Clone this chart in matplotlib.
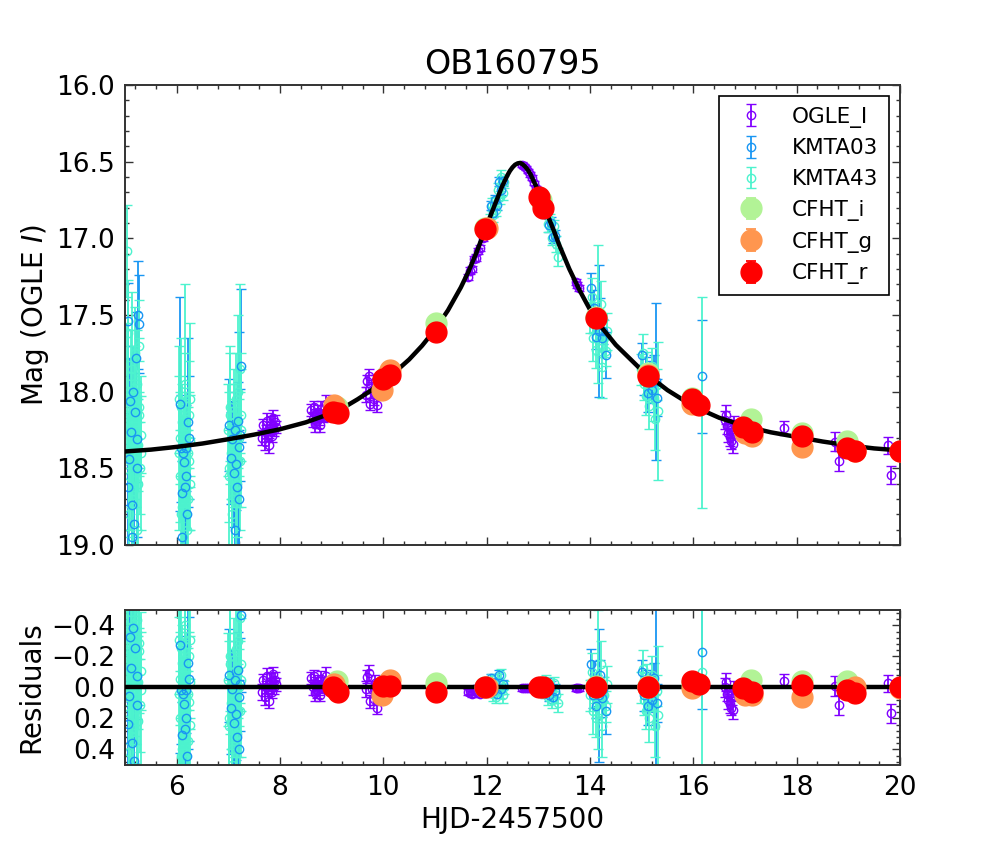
import numpy as np
import matplotlib
matplotlib.use('Agg')
import matplotlib.pyplot as plt
from matplotlib.ticker import AutoMinorLocator, MultipleLocator

# ---------------- model curve ----------------
model_t = [5.0, 5.5, 6.0, 6.5, 7.0, 7.5, 8.0, 8.5, 9.0, 9.25, 9.5, 9.75, 10.0, 10.25,
           10.5, 10.75, 11.0, 11.25, 11.5, 11.65, 11.8, 11.9, 12.0, 12.1, 12.2, 12.3,
           12.4, 12.45, 12.5, 12.55, 12.6, 12.65, 12.7, 12.75, 12.8, 12.85, 12.9, 12.95,
           13.0, 13.1, 13.2, 13.3, 13.4, 13.5, 13.6, 13.8, 14.0, 14.2, 14.5, 15.0, 15.5,
           16.0, 16.5, 17.0, 17.5, 18.0, 18.5, 19.0, 19.5, 20.0]
model_mag = [18.39, 18.378, 18.36, 18.338, 18.31, 18.28, 18.245, 18.20, 18.14, 18.10,
             18.05, 17.995, 17.93, 17.865, 17.79, 17.70, 17.595, 17.47, 17.32, 17.215,
             17.095, 17.005, 16.915, 16.83, 16.745, 16.66, 16.59, 16.56, 16.537, 16.52,
             16.511, 16.508, 16.518, 16.534, 16.555, 16.583, 16.62, 16.655, 16.694,
             16.78, 16.866, 16.95, 17.04, 17.12, 17.20, 17.34, 17.465, 17.57, 17.695,
             17.86, 17.99, 18.095, 18.17, 18.225, 18.265, 18.295, 18.325, 18.35, 18.37,
             18.383]
res_line_t = [5.0, 20.0]
res_line_v = [0.0, 0.0]

# ---------------- OGLE_I ----------------
ogle_t = [7.66, 7.68, 7.70, 7.72, 7.74, 7.76, 7.78, 7.80, 7.82, 7.84, 7.86, 7.88, 7.90, 7.92,
          8.60, 8.63, 8.66, 8.68, 8.70, 8.72, 8.74, 8.76, 8.78, 8.80, 8.83, 8.86, 8.89, 8.92,
          9.66, 9.69, 9.72, 9.75, 9.78, 9.81, 9.84, 9.87, 9.90, 9.93,
          11.64, 11.68, 11.72, 11.76, 11.80, 11.84, 11.88, 11.92,
          12.68, 12.72, 12.76, 12.80, 12.84, 12.88, 12.92, 12.96,
          13.72, 13.75, 13.78,
          16.62, 16.64, 16.66, 16.68, 16.70, 16.72, 16.74, 16.76, 16.78,
          17.75, 18.74, 18.82, 19.77, 19.82]
ogle_mag = [18.30, 18.22, 18.33, 18.26, 18.19, 18.28, 18.35, 18.24, 18.21, 18.29, 18.17, 18.25, 18.20, 18.23,
            18.12, 18.18, 18.10, 18.21, 18.15, 18.19, 18.13, 18.17, 18.22, 18.11, 18.16, 18.14, 18.08, 18.12,
            18.02, 17.93, 17.90, 18.08, 17.99, 18.05, 17.94, 18.09, 18.00, 17.97,
            17.253, 17.21, 17.20, 17.137, 17.125, 17.08, 17.063, 16.997,
            16.52, 16.528, 16.542, 16.56, 16.582, 16.605, 16.64, 16.672,
            17.285, 17.305, 17.325,
            18.183, 18.15, 18.227, 18.27, 18.295, 18.322, 18.244, 18.341, 18.208,
            18.235, 18.325, 18.45, 18.35, 18.545]
ogle_err = [0.05, 0.04, 0.05, 0.04, 0.05, 0.04, 0.05, 0.04, 0.05, 0.04, 0.05, 0.04, 0.05, 0.04,
            0.04, 0.05, 0.04, 0.05, 0.04, 0.05, 0.04, 0.05, 0.04, 0.05, 0.04, 0.05, 0.06, 0.04,
            0.05, 0.04, 0.05, 0.04, 0.05, 0.04, 0.05, 0.04, 0.05, 0.04,
            0.02, 0.02, 0.02, 0.02, 0.02, 0.02, 0.02, 0.02,
            0.015, 0.015, 0.015, 0.015, 0.015, 0.015, 0.015, 0.015,
            0.02, 0.02, 0.02,
            0.06, 0.06, 0.05, 0.06, 0.06, 0.05, 0.06, 0.06, 0.05,
            0.045, 0.065, 0.065, 0.055, 0.06]
ogle_res = [0.03, -0.05, 0.06, -0.005, -0.075, 0.015, 0.085, -0.02, -0.045, 0.03, -0.085, 0.0, -0.05, -0.02,
            -0.06, 0.0, -0.075, 0.035, -0.025, 0.015, -0.04, 0.0, 0.05, -0.055, -0.005, -0.02, -0.075, -0.03,
            0.01, -0.07, -0.095, 0.09, 0.01, 0.075, -0.03, 0.13, 0.045, 0.02,
            0.03, 0.02, 0.04, 0.01, 0.03, 0.02, 0.04, 0.01,
            0.005, 0.005, 0.005, 0.005, 0.005, 0.0, 0.005, 0.01,
            0.005, 0.005, 0.005,
            0.0, -0.035, 0.04, 0.08, 0.105, 0.13, 0.05, 0.145, 0.01,
            -0.045, -0.012, 0.113, -0.028, 0.167]

# ---------------- KMTA03 ----------------
k03_t = [5.06, 5.08, 5.10, 5.12, 5.14, 5.16, 5.18, 5.20, 5.22, 5.24, 5.26, 5.28, 5.05, 5.13, 5.23,
         6.06, 6.08, 6.10, 6.12, 6.14, 6.16, 6.18, 6.20, 6.22, 6.24, 6.11, 6.19,
         7.02, 7.05, 7.08, 7.10, 7.12, 7.14, 7.16, 7.18, 7.20, 7.22, 7.24, 7.13, 7.21,
         12.08, 12.12, 12.16, 12.20, 12.24, 12.28, 12.32,
         13.12, 13.16, 13.20, 13.24, 13.28, 13.32,
         14.02, 14.05, 14.08, 14.11, 14.14, 14.17, 14.20, 14.23, 14.26, 14.30,
         15.00, 15.04, 15.08, 15.12, 15.16, 15.20, 15.24, 15.28, 15.30,
         16.17]
k03_mag = [17.54, 18.44, 18.06, 18.26, 18.74, 18.00, 18.86, 18.13, 17.78, 18.31, 17.50, 17.56, 18.62, 18.95, 18.50,
           18.08, 18.37, 18.66, 18.40, 18.46, 18.62, 18.37, 18.80, 18.20, 18.30, 18.95, 18.55,
           18.22, 18.43, 18.31, 18.53, 18.25, 18.47, 18.62, 18.19, 18.36, 18.28, 17.83, 18.90, 18.70,
           16.787, 16.833, 16.749, 16.785, 16.631, 16.687, 16.626,
           16.827, 16.812, 16.916, 16.90, 16.993, 16.988,
           17.326, 17.54, 17.457, 17.643, 17.56, 17.605, 17.49, 17.653, 17.606, 17.763,
           17.76, 17.92, 17.851, 18.011, 17.902, 17.992, 17.862, 17.933, 18.038,
           17.90]
k03_err = [0.25, 0.30, 0.28, 0.22, 0.35, 0.30, 0.40, 0.25, 0.30, 0.28, 0.35, 0.32, 0.45, 0.50, 0.45,
           0.70, 0.35, 0.30, 0.25, 0.30, 0.40, 0.28, 0.45, 0.55, 0.40, 0.50, 0.45,
           0.30, 0.30, 0.25, 0.35, 0.25, 0.30, 0.40, 0.25, 0.75, 0.30, 0.50, 0.50, 0.45,
           0.03, 0.03, 0.03, 0.03, 0.03, 0.03, 0.03,
           0.04, 0.04, 0.04, 0.04, 0.04, 0.04,
           0.10, 0.08, 0.12, 0.08, 0.10, 0.43, 0.10, 0.12, 0.08, 0.15,
           0.08, 0.10, 0.08, 0.12, 0.10, 0.08, 0.10, 0.51, 0.12,
           0.37]
k03_res = [-0.845, 0.055, -0.325, -0.125, 0.355, -0.385, 0.475, -0.255, -0.605, -0.075, -0.885, -0.825, 0.235, 0.565, 0.115,
           -0.275, 0.015, 0.305, 0.045, 0.105, 0.265, 0.015, 0.445, -0.155, -0.055, 0.595, 0.195,
           -0.08, 0.13, 0.01, 0.23, -0.05, 0.17, 0.32, -0.11, 0.06, -0.02, -0.47, 0.60, 0.40,
           -0.06, 0.02, -0.03, 0.04, -0.08, 0.01, -0.02,
           0.03, -0.02, 0.05, 0.0, 0.06, 0.02,
           -0.15, 0.05, -0.05, 0.12, 0.02, 0.05, -0.08, 0.07, 0.01, 0.15,
           -0.10, 0.05, -0.03, 0.12, 0.00, 0.08, -0.06, 0.0, 0.10,
           -0.23]

# ---------------- KMTA43 ----------------
k43_t = [5.03, 5.05, 5.06, 5.08, 5.09, 5.11, 5.12, 5.14, 5.15, 5.17, 5.20, 5.21, 5.22, 5.24, 5.25, 5.26, 5.27, 5.28, 5.29, 5.30,
         5.04, 5.07, 5.10, 5.13, 5.16, 5.19, 5.23, 5.27, 5.31,
         6.04, 6.06, 6.07, 6.09, 6.10, 6.12, 6.13, 6.15, 6.16, 6.18, 6.19, 6.21, 6.22, 6.24, 6.25, 6.26,
         6.05, 6.08, 6.11, 6.14, 6.17, 6.20, 6.23, 6.26,
         7.00, 7.02, 7.04, 7.06, 7.08, 7.10, 7.12, 7.14, 7.16, 7.18, 7.20, 7.22, 7.24,
         7.01, 7.03, 7.07, 7.11, 7.15, 7.19, 7.23, 7.25,
         12.06, 12.10, 12.13, 12.16, 12.19, 12.22, 12.25, 12.28, 12.31, 12.34,
         13.10, 13.14, 13.18, 13.22, 13.26, 13.30, 13.34, 13.38,
         14.00, 14.03, 14.06, 14.09, 14.12, 14.15, 14.18, 14.21, 14.24, 14.27, 14.30, 14.33,
         14.98, 15.02, 15.05, 15.08, 15.11, 15.14, 15.17, 15.20, 15.23, 15.26, 15.29, 15.32,
         16.17]
k43_mag = [17.08, 17.62, 18.10, 18.55, 18.25, 17.90, 18.40, 18.70, 18.30, 18.05, 17.75, 18.45, 18.20, 17.95, 18.60, 18.35, 17.70, 18.15, 18.50, 18.28,
           18.00, 18.80, 18.45, 17.85, 18.65, 18.20, 18.90, 18.10, 18.40,
           18.05, 18.55, 18.30, 18.80, 18.20, 18.45, 18.65, 18.35, 17.95, 18.50, 18.25, 18.70, 18.40, 18.15, 18.60, 18.32,
           18.40, 18.10, 18.75, 18.55, 18.25, 18.90, 18.45, 18.05,
           18.25, 18.55, 18.10, 18.40, 18.70, 18.20, 18.35, 18.05, 18.60, 18.45, 18.30, 17.85, 18.15,
           18.50, 18.15, 18.80, 18.30, 18.60, 18.00, 18.45, 18.25,
           16.884, 16.78, 16.845, 16.759, 16.814, 16.688, 16.733, 16.597, 16.703, 16.632,
           16.80, 16.775, 16.909, 16.883, 16.996, 16.92, 17.036, 17.122,
           17.515, 17.38, 17.647, 17.513, 17.728, 17.494, 17.66, 17.425, 17.838, 17.651, 17.733, 17.606,
           17.855, 17.745, 17.953, 18.031, 17.839, 18.096, 17.954, 17.832, 18.04, 18.178, 17.955, 18.123,
           18.07]
k43_err = [0.30, 0.35, 0.30, 0.40, 0.25, 0.30, 0.35, 0.40, 0.30, 0.35, 0.30, 0.30, 0.25, 0.35, 0.40, 0.30, 0.30, 0.35, 0.30, 0.25,
           0.45, 0.50, 0.45, 0.50, 0.45, 0.50, 0.55, 0.45, 0.50,
           0.35, 0.30, 0.30, 0.40, 0.25, 0.30, 0.35, 0.30, 0.65, 0.30, 0.25, 0.45, 0.30, 0.35, 0.30, 0.30,
           0.50, 0.45, 0.50, 0.45, 0.50, 0.50, 0.45, 0.50,
           0.30, 0.30, 0.35, 0.30, 0.40, 0.25, 0.30, 0.30, 0.35, 0.30, 0.25, 0.55, 0.30,
           0.50, 0.45, 0.50, 0.45, 0.50, 0.50, 0.45, 0.50,
           0.04, 0.04, 0.05, 0.03, 0.04, 0.05, 0.04, 0.04, 0.05, 0.04,
           0.04, 0.04, 0.05, 0.04, 0.05, 0.04, 0.05, 0.06,
           0.10, 0.12, 0.15, 0.10, 0.12, 0.45, 0.10, 0.15, 0.20, 0.12, 0.10, 0.12,
           0.10, 0.12, 0.10, 0.12, 0.10, 0.15, 0.10, 0.12, 0.15, 0.20, 0.10, 0.45,
           0.69]
k43_res = [-1.305, -0.765, -0.285, 0.165, -0.135, -0.485, 0.015, 0.315, -0.085, -0.335, -0.635, 0.065, -0.185, -0.435, 0.215, -0.035, -0.685, -0.235, 0.115, -0.105,
           -0.385, 0.415, 0.065, -0.535, 0.265, -0.185, 0.515, -0.285, 0.015,
           -0.305, 0.195, -0.055, 0.445, -0.155, 0.095, 0.295, -0.005, -0.405, 0.145, -0.105, 0.345, 0.045, -0.205, 0.245, -0.035,
           0.045, -0.255, 0.395, 0.195, -0.105, 0.545, 0.095, -0.305,
           -0.05, 0.25, -0.20, 0.10, 0.40, -0.10, 0.05, -0.25, 0.30, 0.15, 0.0, -0.45, -0.15,
           0.20, -0.15, 0.50, 0.0, 0.30, -0.30, 0.15, -0.05,
           0.02, -0.05, 0.04, -0.02, 0.06, -0.04, 0.03, -0.08, 0.05, 0.0,
           0.02, -0.04, 0.06, 0.0, 0.08, -0.03, 0.05, 0.10,
           0.05, -0.10, 0.15, 0.0, 0.20, -0.05, 0.10, -0.15, 0.25, 0.05, 0.12, -0.02,
           0.0, -0.12, 0.08, 0.15, -0.05, 0.2, 0.05, -0.08, 0.12, 0.25, 0.02, 0.18,
           -0.10]

# ---------------- CFHT ----------------
cfi_t = [9.10, 10.05, 11.01, 11.97, 13.05, 14.11, 15.12, 15.97, 17.11, 18.10, 18.97]
cfi_mag = [18.10, 17.90, 17.555, 16.93, 16.75, 17.51, 17.88, 18.04, 18.18, 18.27, 18.32]
cfi_err = [0.01] * 11
cfi_res = [-0.04, -0.02, -0.03, 0.0, 0.0, -0.01, -0.01, -0.03, -0.05, -0.04, -0.04]

cfg_t = [9.05, 9.97, 10.12, 12.00, 15.12, 15.97, 17.00, 17.13, 18.10, 19.13, 20.0]
cfg_mag = [18.09, 17.99, 17.86, 16.935, 17.89, 18.08, 18.27, 18.29, 18.36, 18.385, 18.39]
cfg_err = [0.01] * 11
cfg_res = [-0.02, 0.05, -0.05, 0.0, 0.0, 0.005, 0.05, 0.05, 0.06, 0.0, 0.005]

cfr_t = [9.03, 9.13, 10.0, 10.12, 11.01, 11.97, 13.01, 13.09, 14.11, 15.12, 15.97, 16.11,
         16.97, 17.13, 18.10, 18.97, 19.13, 20.0]
cfr_mag = [18.13, 18.14, 17.92, 17.89, 17.61, 16.94, 16.73, 16.80, 17.52, 17.90, 18.05, 18.09,
           18.23, 18.26, 18.29, 18.37, 18.385, 18.385]
cfr_err = [0.01] * 18
cfr_res = [0.0, 0.03, -0.01, -0.01, 0.03, 0.0, 0.0, 0.0, 0.0, 0.0, -0.04, -0.02,
           0.005, 0.03, -0.015, 0.015, 0.035, 0.0]

labels = ['OGLE_I', 'KMTA03', 'KMTA43', 'CFHT_i', 'CFHT_g', 'CFHT_r']
colors = ['#8000ff', '#1996f3', '#4df3ce', '#b2f396', '#ff964f', '#ff0000']
bar_z = [2.0, 2.05, 2.1]      # error bars: KMTA43 columns over KMTA03 bars
mark_z = [2.02, 2.25, 2.15]   # KMTA03 circles show above the KMTA43 columns

small_sets = [(ogle_t, ogle_mag, ogle_err, ogle_res),
              (k03_t, k03_mag, k03_err, k03_res),
              (k43_t, k43_mag, k43_err, k43_res)]
big_sets = [(cfi_t, cfi_mag, cfi_err, cfi_res),
            (cfg_t, cfg_mag, cfg_err, cfg_res),
            (cfr_t, cfr_mag, cfr_err, cfr_res)]

fig = plt.figure(figsize=(10, 8.5), dpi=100)
fig.patch.set_facecolor('white')
ax1 = fig.add_axes([0.125, 0.3588, 0.775, 0.5412])
ax2 = fig.add_axes([0.125, 0.1, 0.775, 0.1824])

handles = []
for i, (t, m, e, r) in enumerate(small_sets):
    c = colors[i]
    for ax, y in ((ax1, m), (ax2, r)):
        h = ax.errorbar(t, y, yerr=e, fmt='o', mfc='none', mec=c, mew=1.0, ms=6,
                        ecolor=c, elinewidth=1.3, capsize=3.5, capthick=1.3,
                        zorder=bar_z[i], label=labels[i])
        h[0].set_zorder(mark_z[i])
        if ax is ax1:
            handles.append(h)

ax1.plot(model_t, model_mag, color='black', lw=3.2, zorder=3, solid_joinstyle='round')
ax2.plot(res_line_t, res_line_v, color='black', lw=3.2, zorder=3)

for j, (t, m, e, r) in enumerate(big_sets):
    c = colors[3 + j]
    h = ax1.errorbar(t, m, yerr=e, fmt='o', mfc=c, mec=c, ms=15,
                     ecolor=c, elinewidth=1.3, capsize=3.5, capthick=1.3,
                     zorder=4 + 0.1 * j, label=labels[3 + j])
    ax2.errorbar(t, r, yerr=e, fmt='o', mfc=c, mec=c, ms=15,
                 ecolor=c, elinewidth=1.3, capsize=3.5, capthick=1.3,
                 zorder=4 + 0.1 * j)
    handles.append(h)

for ax in (ax1, ax2):
    ax.set_xlim(5, 20)
    ax.xaxis.set_major_locator(MultipleLocator(2))
    ax.xaxis.set_minor_locator(AutoMinorLocator(5))
    ax.yaxis.set_minor_locator(AutoMinorLocator(5))
    ax.tick_params(which='both', direction='in', top=True, right=True,
                   labelsize=19, width=1.0, color='0.2', pad=7)
    ax.tick_params(which='major', length=6)
    ax.tick_params(which='minor', length=3)
    for s in ax.spines.values():
        s.set_linewidth(1.4)
        s.set_color('0.2')

ax1.set_ylim(19.0, 16.0)
ax1.yaxis.set_major_locator(MultipleLocator(0.5))
ax1.tick_params(labelbottom=False)
ax1.set_ylabel('Mag (OGLE $I$)', fontsize=20)
ax1.set_title('OB160795', fontsize=24, pad=8)

ax2.set_ylim(0.5, -0.5)
ax2.set_yticks([-0.4, -0.2, 0.0, 0.2, 0.4])
ax2.set_ylabel('Residuals', fontsize=20)
ax2.set_xlabel('HJD-2457500', fontsize=20)

fig.align_ylabels([ax1, ax2])

leg = ax1.legend(handles=handles, labels=labels, loc='upper right', numpoints=1,
                 fontsize=15.5, fancybox=False, framealpha=1, edgecolor='black',
                 borderpad=0.5, labelspacing=0.5, handletextpad=0.9, borderaxespad=0.5)
leg.get_frame().set_linewidth(1.2)

fig.savefig('out.png', dpi=100, facecolor='white')
